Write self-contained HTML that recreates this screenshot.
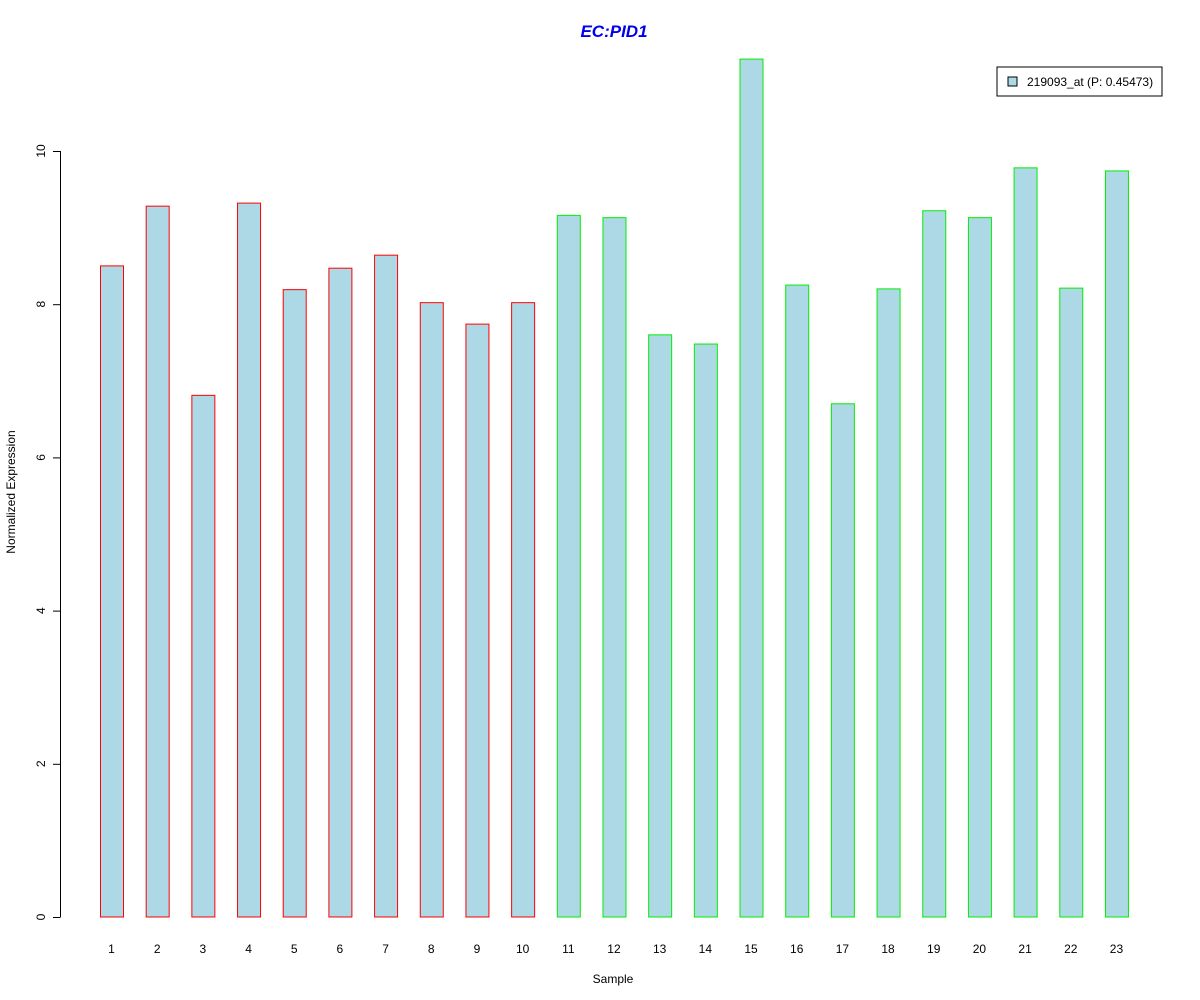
<!DOCTYPE html>
<html><head><meta charset="utf-8"><style>
body{margin:0;background:#fff;}
svg{display:block;font-family:"Liberation Sans",Arial,sans-serif;}
</style></head><body>
<svg id="chart" width="1200" height="1000" xmlns="http://www.w3.org/2000/svg">
<rect width="1200" height="1000" fill="#fff"/>
<text x="614" y="37" text-anchor="middle" font-size="17" font-weight="bold" font-style="italic" fill="#0000ee">EC:PID1</text>
<text transform="translate(15,492) rotate(-90)" text-anchor="middle" font-size="12">Normalized Expression</text>
<text x="613" y="983" text-anchor="middle" font-size="12">Sample</text>
<g id="yaxis"></g>
<g id="bars"></g>
<g id="xlabels"></g>
<g>
<rect x="997" y="67" width="165" height="29" fill="#fff" stroke="#000"/>
<rect x="1008" y="77" width="9" height="9" fill="#add8e6" stroke="#000"/>
<text x="1027" y="86" font-size="12">219093_at (P: 0.45473)</text>
</g>
</svg>
<script>
const categories=["1","2","3","4","5","6","7","8","9","10","11","12","13","14","15","16","17","18","19","20","21","22","23"];
const values=[8.50,9.28,6.81,9.32,8.19,8.47,8.64,8.02,7.74,8.02,9.16,9.13,7.60,7.48,11.20,8.25,6.70,8.20,9.22,9.13,9.78,8.21,9.74];
const groups=["r","r","r","r","r","r","r","r","r","r","g","g","g","g","g","g","g","g","g","g","g","g","g"];
const yTicks=[0,2,4,6,8,10];
const NS="http://www.w3.org/2000/svg";
const y=v=>917-v*76.6;
const x=i=>100+i*45.68;
const bw=23;
const bars=document.getElementById('bars'),xl=document.getElementById('xlabels'),ya=document.getElementById('yaxis');
categories.forEach((c,i)=>{
  const r=document.createElementNS(NS,'rect');
  
  
  r.setAttribute('x',x(i)+0.5);r.setAttribute('y',y(values[i]));
  r.setAttribute('width',bw);r.setAttribute('height',917-y(values[i]));
  r.setAttribute('fill','#add8e6');r.setAttribute('stroke',groups[i]==='r'?'#ff0000':'#00ee00');
  bars.appendChild(r);
  const t=document.createElementNS(NS,'text');
  
  
  t.setAttribute('x',x(i)+bw/2);t.setAttribute('y',953);t.setAttribute('text-anchor','middle');t.setAttribute('font-size','12');
  t.textContent=c;xl.appendChild(t);
});
const ax=document.createElementNS(NS,'line');


ax.setAttribute('x1',60.5);ax.setAttribute('x2',60.5);ax.setAttribute('y1',y(yTicks[yTicks.length-1]));ax.setAttribute('y2',y(0));ax.setAttribute('stroke','#000');
ya.appendChild(ax);
yTicks.forEach(v=>{
  const l=document.createElementNS(NS,'line');
  
  
  l.setAttribute('x1',53);l.setAttribute('x2',60.5);l.setAttribute('y1',y(v)+0.5);l.setAttribute('y2',y(v)+0.5);l.setAttribute('stroke','#000');
  ya.appendChild(l);
  const t=document.createElementNS(NS,'text');
  
  
  t.setAttribute('transform','translate(45,'+y(v)+') rotate(-90)');t.setAttribute('text-anchor','middle');t.setAttribute('font-size','12');
  t.textContent=v;ya.appendChild(t);
});
</script>
</body></html>
